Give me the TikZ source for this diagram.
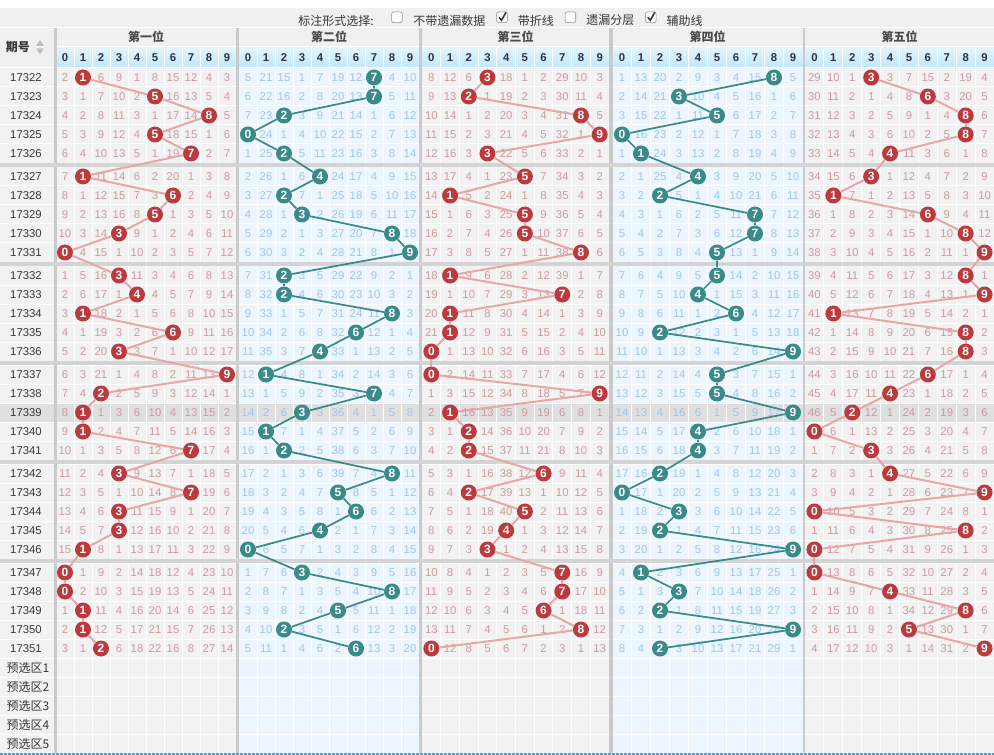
\documentclass[tikz,border=0pt]{standalone}
\usepackage{fontspec}
\setmainfont{Liberation Sans}
\newfontfamily\cjk{Noto Sans CJK SC}
\usepackage{tikz}
\usetikzlibrary{positioning}

\definecolor{pagegray}{RGB}{240,240,240}
\definecolor{cellgray}{RGB}{242,242,242}
\definecolor{cellblue}{RGB}{237,246,254}
\definecolor{hlgray}{RGB}{223,223,223}
\definecolor{sepgray}{RGB}{202,202,202}
\definecolor{bandgray}{RGB}{212,212,212}
\definecolor{headtop}{RGB}{228,246,253}
\definecolor{headbot}{RGB}{194,232,249}
\definecolor{headtext}{RGB}{50,48,70}
\definecolor{titletext}{RGB}{75,75,75}
\definecolor{textdark}{RGB}{55,55,55}
\definecolor{numred}{RGB}{205,155,155}
\definecolor{numteal}{RGB}{158,198,240}
\definecolor{ballred}{RGB}{188,58,62}
\definecolor{ballteal}{RGB}{57,138,136}
\definecolor{linered}{RGB}{233,166,166}
\definecolor{boxgray}{RGB}{140,140,140}
\definecolor{icongray}{RGB}{190,190,190}
\definecolor{dotblue}{RGB}{72,160,222}

\tikzstyle{num} = [inner sep=0pt, font=\fontsize{8.5}{10}\selectfont]
\tikzstyle{ball} = [circle, inner sep=0pt, minimum size=12pt, text=white, font=\fontsize{9}{10}\selectfont\bfseries]
\tikzstyle{period} = [inner sep=0pt, text=textdark, font=\fontsize{8.5}{10}\selectfont]
\tikzstyle{cn} = [inner sep=0pt, text=textdark, font=\cjk\fontsize{9}{11}\selectfont]
\tikzstyle{cnbold} = [cn, font=\cjk\bfseries\fontsize{9}{11}\selectfont]
\tikzstyle{headdigit} = [inner sep=0pt, text=headtext, font=\fontsize{8.5}{10}\selectfont\bfseries]
\tikzstyle{chkbox} = [draw=boxgray, fill=white, rounded corners=1.5pt, minimum size=8pt, inner sep=0pt]
\tikzstyle{checkmark} = [draw=textdark, line width=1.2pt]
\tikzstyle{cellline} = [white, line width=0.75pt]
\tikzstyle{linkred} = [draw=linered, line width=1.5pt]
\tikzstyle{linkteal} = [draw=ballteal, line width=1.3pt]

% missing counts per position and digit
\newcommand\setmiss[3]{\expandafter\xdef\csname miss#1-#2\endcsname{#3}}
\newcommand\getmiss[2]{\csname miss#1-#2\endcsname}

\begin{document}
\begin{tikzpicture}[x=0.75pt, y=-0.75pt]
  \useasboundingbox (0,0) rectangle (994,755);
  % background
  \fill[pagegray] (0,0) rectangle (994,755);
  \fill[white] (0,0) rectangle (994,8);
  \draw[cellline] (0,27.5) -- (994,27.5);
  \fill[cellgray] (0,68) rectangle (54,753);

  % five positions: cells and headers
  \foreach \p/\gx/\gw/\title in {1/56/18/第一位, 2/239/18/第二位, 3/422/18.7/第三位, 4/612.5/19/第四位, 5/805/18.9/第五位}{
    \ifodd\p\relax \def\bg{cellgray}\else \def\bg{cellblue}\fi
    \fill[fill=\bg] (\gx,68) rectangle ++(10*\gw,685);
    \shade[top color=headtop, bottom color=headbot] (\gx,47) rectangle ++(10*\gw,20);
    \node[cnbold, text=titletext] (title\p) at (\gx+5*\gw,37) {\title};
    \foreach \d in {0,...,9}
      \node[headdigit] (head\p-\d) at (\gx+\gw*\d+\gw/2,57.5) {\d};
  }
  \fill[hlgray] (0,403) rectangle (994,422); % 17339

  % cell lines
  \foreach \p/\gx/\gw in {1/56/18, 2/239/18, 3/422/18.7, 4/612.5/19, 5/805/18.9}{
    \draw[cellline] (\gx,46.5) -- ++(10*\gw,0);
    \foreach \d in {1,...,9}
      \draw[cellline] (\gx+\gw*\d,47) -- (\gx+\gw*\d,753);
  }
  \foreach \r in {0,...,29}{
    \pgfmathsetmacro\yt{68+99*int(\r/5)+19*mod(\r,5)}
    \draw[cellline] (0,\yt) -- (994,\yt);
  }
  \foreach \j in {0,...,4}
    \draw[cellline] (0,658+19*\j) -- (994,658+19*\j);

  % separators
  \foreach \a/\b in {53.5/56.5, 236/239.3, 419.3/422.3, 609.3/612.7, 802.7/805.3}
    \fill[sepgray] (\a,28) rectangle (\b,753);
  \foreach \g in {1,...,5}
    \fill[bandgray] (0,64+99*\g) rectangle (994,68+99*\g);

  % option bar
  \node[cn, anchor=east] (mode) at (374,20.5) {标注形式选择:};
  \node[chkbox, right=13pt of mode, yshift=2.4pt] (box1) {};
  \node[cn, right=8pt of box1, yshift=-2.4pt] (opt1) {不带遗漏数据};
  \node[chkbox, right=8pt of opt1, yshift=2.4pt] (box2) {};
  \node[cn, right=7.5pt of box2, yshift=-2.4pt] (opt2) {带折线};
  \node[chkbox, right=8pt of opt2, yshift=2.4pt] (box3) {};
  \node[cn, right=7.5pt of box3, yshift=-2.4pt] (opt3) {遗漏分层};
  \node[chkbox, right=8pt of opt3, yshift=2.4pt] (box4) {};
  \node[cn, right=7.5pt of box4, yshift=-2.4pt] (opt4) {辅助线};
  \foreach \b in {box2, box4}
    \draw[checkmark] (\b.center) ++(-3,0) -- ++(2.5,3) -- ++(4.5,-8);

  % period header
  \node[cnbold] (qihao) at (18,47) {期号};
  \fill[icongray] (36,46) -- (44,46) -- (40,40) -- cycle;
  \fill[icongray] (36,48.5) -- (44,48.5) -- (40,54.5) -- cycle;

  % counts before 17322
  \foreach \p/\vals in {1/{1,0,5,8,0,7,14,11,3,2}, 2/{4,20,14,0,6,18,11,0,3,9}, 3/{7,11,5,0,17,0,1,28,9,2}, 4/{0,12,19,1,8,2,3,14,0,4}, 5/{28,9,0,0,2,6,14,1,18,3}}
    \foreach \v [count=\d from 0] in \vals {\setmiss{\p}{\d}{\v}}

  % draws
  \foreach \per/\ha/\hb/\hc/\hd/\he [count=\r from 0] in {
      17322/1/7/3/8/3, 17323/5/7/2/3/6, 17324/8/2/8/5/8, 17325/5/0/9/0/8, 17326/7/2/3/1/4,
      17327/1/4/5/4/3, 17328/6/2/1/2/1, 17329/5/3/5/7/6, 17330/3/8/5/7/8, 17331/0/9/8/5/9,
      17332/3/2/1/5/8, 17333/4/2/7/4/9, 17334/1/8/1/6/1, 17335/6/6/1/2/8, 17336/3/4/0/9/8,
      17337/9/1/0/5/6, 17338/2/7/9/5/4, 17339/1/3/1/9/2, 17340/1/1/2/4/0, 17341/7/2/2/4/3,
      17342/3/8/6/2/4, 17343/7/5/2/0/9, 17344/3/6/5/3/0, 17345/3/4/4/2/8, 17346/1/0/3/9/0,
      17347/0/3/7/1/0, 17348/0/8/7/3/4, 17349/1/5/6/2/8, 17350/1/2/8/9/5, 17351/2/6/0/2/9}{
    \pgfmathsetmacro\yc{77.5+99*int(\r/5)+19*mod(\r,5)}
    \node[period] (per\r) at (26,\yc) {\per};
    \foreach \k [count=\p] in {\ha,\hb,\hc,\hd,\he}{
      \edef\gx{\ifcase\p\or56\or239\or422\or612.5\or805\fi}
      \edef\gw{\ifcase\p\or18\or18\or18.7\or19\or18.9\fi}
      \ifodd\p\relax \def\tone{red}\else \def\tone{teal}\fi
      \foreach \d in {0,...,9}{
        \pgfmathsetmacro\xc{\gx+\gw*(\d+0.5)}
        \ifnum\d=\k\relax
          \setmiss{\p}{\d}{0}
          \node[ball, fill=ball\tone] (h\p-\r) at (\xc,\yc) {\d};
        \else
          \setmiss{\p}{\d}{\the\numexpr\getmiss{\p}{\d}+1\relax}
          \node[num, text=num\tone] (c\p-\r-\d) at (\xc,\yc) {\getmiss{\p}{\d}};
        \fi
      }
    }
  }

  % broken lines
  \foreach \p in {1,...,5}{
    \ifodd\p\relax \def\tone{red}\else \def\tone{teal}\fi
    \foreach \r [evaluate=\r as \s using int(\r+1)] in {0,...,28}
      \draw[link\tone] (h\p-\r) -- (h\p-\s);
  }

  % preselect rows
  \foreach \j in {1,...,5}
    \node[cn] (pre\j) at (28,648.5+19*\j) {预选区\j};
  \draw[dotblue, line width=1.5pt, dash pattern=on 2.25pt off 0.75pt] (0,754) -- (994,754);
\end{tikzpicture}
\end{document}
